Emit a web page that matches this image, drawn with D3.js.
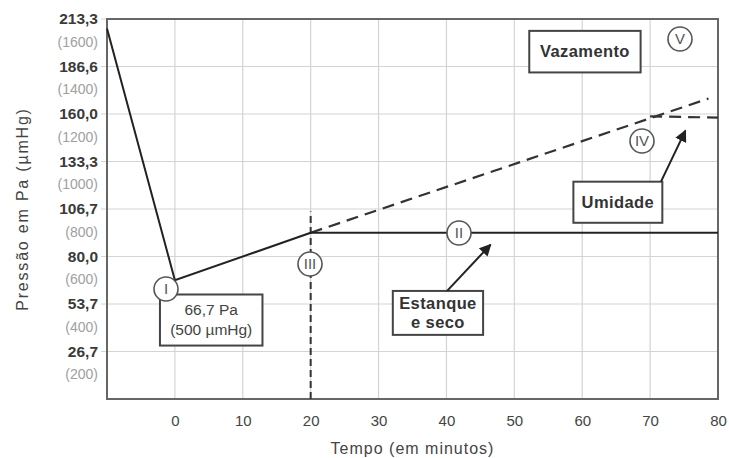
<!DOCTYPE html>
<html>
<head>
<meta charset="utf-8">
<script src="https://cdn.jsdelivr.net/npm/d3@7"></script>
<style>
  body { margin: 0; background: #fff; }
  text { font-family: "Liberation Sans", Arial, sans-serif; }
</style>
</head>
<body>
<div id="chart"></div>
<script>
// data (pressure in µmHg, time in minutes)
var xTicks = [0, 10, 20, 30, 40, 50, 60, 70, 80];
var yTicks = [200, 400, 600, 800, 1000, 1200, 1400, 1600];
var paLabels = ["26,7", "53,7", "80,0", "106,7", "133,3", "160,0", "186,6", "213,3"];

var pumpDown = [{t: -10, p: 1560}, {t: 0, p: 500}, {t: 20, p: 700}];
var tightDry = [{t: 20, p: 700}, {t: 80, p: 700}];
var leak = [{t: 20, p: 700}, {t: 78.6, p: 1265}];
var moisture = [{t: 70, p: 1190}, {t: 80, p: 1185}];
var stopLine = [{t: 20, p: 0}, {t: 20, p: 790}];

var markers = [
  {label: "I", t: -1.3, p: 465},
  {label: "II", t: 41.8, p: 700},
  {label: "III", t: 19.9, p: 570},
  {label: "IV", t: 68.8, p: 1085},
  {label: "V", t: 74.4, p: 1515}
];

var boxes = [
  {lines: ["66,7 Pa", "(500 µmHg)"], t0: -2.2, t1: 12.9, p0: 440, p1: 225, bold: false},
  {lines: ["Vazamento"], t0: 52.2, t1: 68.6, p0: 1550, p1: 1375, bold: true},
  {lines: ["Umidade"], t0: 58.7, t1: 71.8, p0: 915, p1: 742, bold: true},
  {lines: ["Estanque", "e seco"], t0: 32.1, t1: 45.4, p0: 455, p1: 270, bold: true}
];

var arrows = [
  {from: {t: 40.1, p: 455}, to: {t: 46.5, p: 650}},
  {from: {t: 71.6, p: 915}, to: {t: 75.2, p: 1130}}
];

var width = 729, height = 458;
var margin = {top: 19, right: 11, bottom: 59, left: 107};

var svg = d3.select("#chart").append("svg")
  .attr("width", width).attr("height", height);

var x = d3.scaleLinear().domain([-10, 80]).range([margin.left, width - margin.right]);
var y = d3.scaleLinear().domain([0, 1600]).range([height - margin.bottom, margin.top]);

// arrow head
svg.append("defs").append("marker")
  .attr("id", "head")
  .attr("viewBox", "0 0 10 10")
  .attr("refX", 9).attr("refY", 5)
  .attr("markerWidth", 6).attr("markerHeight", 6)
  .attr("orient", "auto")
  .append("path").attr("d", "M0,0 L10,5 L0,10 z").attr("fill", "#222");

// grid
svg.append("g").selectAll("line").data(xTicks).enter().append("line")
  .attr("x1", function(d) { return x(d); }).attr("x2", function(d) { return x(d); })
  .attr("y1", y(0)).attr("y2", y(1600))
  .attr("stroke", "#d4d4d4").attr("stroke-width", 1.2);

svg.append("g").selectAll("line").data(yTicks).enter().append("line")
  .attr("x1", x(-10) - 6).attr("x2", x(80))
  .attr("y1", function(d) { return y(d); }).attr("y2", function(d) { return y(d); })
  .attr("stroke", "#d4d4d4").attr("stroke-width", 1.2);

// frame
svg.append("rect")
  .attr("x", x(-10)).attr("y", y(1600))
  .attr("width", x(80) - x(-10)).attr("height", y(0) - y(1600))
  .attr("fill", "none").attr("stroke", "#666").attr("stroke-width", 2);

// x axis labels
var xAxis = d3.axisBottom(x).tickValues(xTicks).tickSize(0).tickPadding(16);
var gx = svg.append("g").attr("transform", "translate(0," + y(0) + ")").call(xAxis);
gx.select(".domain").remove();
gx.selectAll("text").attr("font-size", 15).attr("fill", "#444")
  .style("font-family", "'Liberation Sans', Arial, sans-serif");

// y axis labels: Pa on the line, µmHg below it
var gy = svg.append("g");
gy.selectAll("text.pa").data(yTicks).enter().append("text")
  .attr("class", "pa")
  .attr("x", x(-10) - 9).attr("y", function(d) { return y(d); })
  .attr("dy", "0.35em").attr("text-anchor", "end")
  .attr("font-size", 15.5).attr("font-weight", "bold").attr("fill", "#3a3a3a")
  .text(function(d, i) { return paLabels[i]; });

gy.selectAll("text.hg").data(yTicks).enter().append("text")
  .attr("class", "hg")
  .attr("x", x(-10) - 9).attr("y", function(d) { return y(d) + 23; })
  .attr("dy", "0.35em").attr("text-anchor", "end")
  .attr("font-size", 14).attr("fill", "#a0a0a0")
  .text(function(d) { return "(" + d + ")"; });

// axis titles
svg.append("text")
  .attr("transform", "translate(22," + ((y(0) + y(1600)) / 2) + ") rotate(-90)")
  .attr("text-anchor", "middle").attr("dy", "0.35em")
  .attr("font-size", 16).attr("letter-spacing", 1.8).attr("fill", "#444")
  .text("Pressão em Pa (µmHg)");

svg.append("text")
  .attr("x", (x(-10) + x(80)) / 2).attr("y", 448)
  .attr("text-anchor", "middle").attr("dy", "0.35em")
  .attr("font-size", 16).attr("letter-spacing", 1).attr("fill", "#444")
  .text("Tempo (em minutos)");

// curves
var line = d3.line().x(function(d) { return x(d.t); }).y(function(d) { return y(d.p); });

svg.append("path").datum(stopLine).attr("d", line)
  .attr("fill", "none").attr("stroke", "#333").attr("stroke-width", 2)
  .attr("stroke-dasharray", "7,4");

svg.append("path").datum(leak).attr("d", line)
  .attr("fill", "none").attr("stroke", "#333").attr("stroke-width", 2.2)
  .attr("stroke-dasharray", "12,7");

svg.append("path").datum(moisture).attr("d", line)
  .attr("fill", "none").attr("stroke", "#333").attr("stroke-width", 2.2)
  .attr("stroke-dasharray", "12,7");

svg.append("path").datum(pumpDown).attr("d", line)
  .attr("fill", "none").attr("stroke", "#222").attr("stroke-width", 2);

svg.append("path").datum(tightDry).attr("d", line)
  .attr("fill", "none").attr("stroke", "#222").attr("stroke-width", 2);

// annotation boxes
var box = svg.selectAll("g.box").data(boxes).enter().append("g").attr("class", "box");
box.append("rect")
  .attr("x", function(d) { return x(d.t0); }).attr("y", function(d) { return y(d.p0); })
  .attr("width", function(d) { return x(d.t1) - x(d.t0); })
  .attr("height", function(d) { return y(d.p1) - y(d.p0); })
  .attr("fill", "#fff").attr("stroke", "#444").attr("stroke-width", 2);
box.each(function(d) {
  var cx = (x(d.t0) + x(d.t1)) / 2, cy = (y(d.p0) + y(d.p1)) / 2;
  var n = d.lines.length, lh = d.bold ? 19 : 20;
  d3.select(this).selectAll("text").data(d.lines).enter().append("text")
    .attr("x", cx).attr("y", function(l, i) { return cy + (i - (n - 1) / 2) * lh; })
    .attr("dy", "0.35em").attr("text-anchor", "middle")
    .attr("font-size", d.bold ? 16.5 : 15.5)
    .attr("letter-spacing", d.bold ? 0.4 : 0)
    .attr("font-weight", d.bold ? "bold" : "normal")
    .attr("fill", d.bold ? "#333" : "#444")
    .text(function(l) { return l; });
});

// arrows
svg.selectAll("line.arrow").data(arrows).enter().append("line")
  .attr("class", "arrow")
  .attr("x1", function(d) { return x(d.from.t); }).attr("y1", function(d) { return y(d.from.p); })
  .attr("x2", function(d) { return x(d.to.t); }).attr("y2", function(d) { return y(d.to.p); })
  .attr("stroke", "#222").attr("stroke-width", 2)
  .attr("marker-end", "url(#head)");

// roman numeral markers
var mk = svg.selectAll("g.mk").data(markers).enter().append("g").attr("class", "mk")
  .attr("transform", function(d) {
    return "translate(" + Math.round(x(d.t)) + "," + Math.round(y(d.p)) + ")";
  });
mk.append("circle").attr("r", 12)
  .attr("fill", "#fff").attr("stroke", "#555").attr("stroke-width", 1.6);
mk.append("text").attr("y", 5).attr("text-anchor", "middle")
  .attr("font-size", 15).attr("fill", "#555")
  .text(function(d) { return d.label; });
</script>
</body>
</html>
